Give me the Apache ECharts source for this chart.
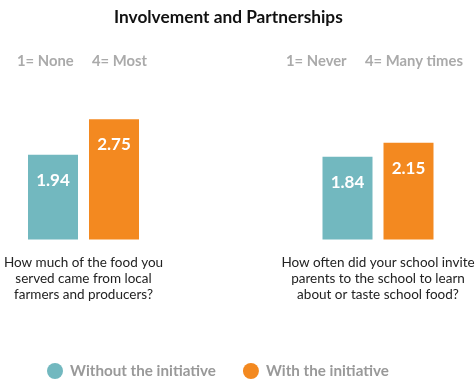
<!DOCTYPE html>
<html>
<head>
<meta charset="utf-8">
<script src="https://cdn.jsdelivr.net/npm/echarts@6/dist/echarts.min.js"></script>
<style>
  html, body { margin: 0; padding: 0; background: #fff; }
  #chart { width: 475px; height: 381px; }
</style>
</head>
<body>
<div id="chart"></div>
<script>
// Survey items, one panel each
const questions = [
  'How much of the food you\nserved came from local\nfarmers and producers?',
  'How often did your school invite\nparents to the school to learn\nabout or taste school food?'
];
const scaleNotes = [
  ['1= None', '4= Most'],
  ['1= Never', '4= Many times']
];
const seriesNames = ['Without the initiative', 'With the initiative'];
const withoutInitiative = [1.94, 1.84];
const withInitiative = [2.75, 2.15];

const FONT = 'Lato';
const TEAL = '#72b8bf';
const ORANGE = '#f38920';

const chart = echarts.init(document.getElementById('chart'), null, { renderer: 'canvas' });

const grids = [
  { left: 0, width: 167, top: 64.5, height: 175, outerBoundsMode: 'none', containLabel: false },
  { left: 294.5, width: 167, top: 59.5, height: 180, outerBoundsMode: 'none', containLabel: false }
];

const xAxes = questions.map((q, i) => ({
  type: 'category',
  gridIndex: i,
  data: [q],
  axisLine: { show: false },
  axisTick: { show: false },
  axisLabel: {
    margin: 15,
    color: '#222',
    fontFamily: FONT,
    fontSize: 13.5,
    lineHeight: 16,
    align: 'center',
    interval: 0
  }
}));

const yAxes = questions.map((q, i) => ({
  type: 'value',
  gridIndex: i,
  min: 0,
  max: 4,
  show: false
}));

const labelStyle = {
  show: true,
  position: 'insideTop',
  distance: 17,
  color: '#fff',
  fontFamily: FONT,
  fontWeight: 'bold',
  fontSize: 17,
  formatter: p => p.value.toFixed(2)
};

const series = [];
questions.forEach((q, i) => {
  series.push({
    name: seriesNames[0], type: 'bar', xAxisIndex: i, yAxisIndex: i,
    data: [withoutInitiative[i]], barWidth: 50, barGap: '22%',
    itemStyle: { color: TEAL }, label: labelStyle
  });
  series.push({
    name: seriesNames[1], type: 'bar', xAxisIndex: i, yAxisIndex: i,
    data: [withInitiative[i]], barWidth: 50, barGap: '22%',
    itemStyle: { color: ORANGE }, label: labelStyle
  });
});

const noteStyle = { color: '#aaa', fontFamily: FONT, fontWeight: 'bold', fontSize: 14.8 };

chart.setOption({
  animation: false,
  title: [
    { text: 'Involvement and Partnerships', left: 114, top: 9, padding: 0,
      textStyle: { color: '#111', fontFamily: FONT, fontWeight: 'bold', fontSize: 17.3 } },
    { text: scaleNotes[0][0], left: 17, top: 54, padding: 0, textStyle: noteStyle },
    { text: scaleNotes[0][1], left: 92, top: 54, padding: 0, textStyle: noteStyle },
    { text: scaleNotes[1][0], left: 286, top: 54, padding: 0, textStyle: noteStyle },
    { text: scaleNotes[1][1], left: 365, top: 54, padding: 0, textStyle: noteStyle }
  ],
  legend: {
    data: seriesNames,
    top: 363,
    left: 47,
    padding: 0,
    icon: 'circle',
    itemWidth: 16,
    itemHeight: 16,
    itemGap: 27,
    textStyle: {
      color: '#999', fontFamily: FONT, fontWeight: 'bold', fontSize: 15.2,
      padding: [0, 0, 0, 2]
    }
  },
  grid: grids,
  xAxis: xAxes,
  yAxis: yAxes,
  series: series
});
</script>
</body>
</html>
